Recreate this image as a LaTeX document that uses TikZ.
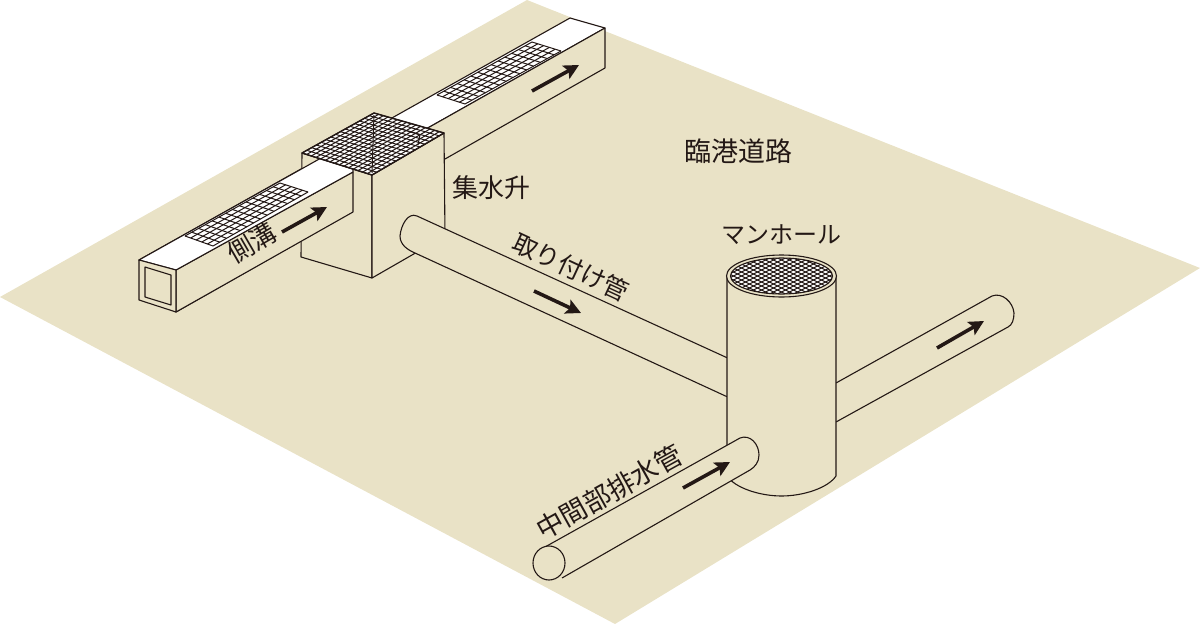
\documentclass[tikz,border=0pt]{standalone}
\usepackage{fontspec}
\setmainfont{Noto Sans CJK JP}
\usetikzlibrary{arrows.meta,calc}
\definecolor{ground}{HTML}{E9E2C6}
\definecolor{ink}{HTML}{231815}
\tikzset{
	outline/.style={draw=ink,line width=1.1pt,line join=round},
	face/.style={outline,fill=ground},
	cover/.style={outline,fill=white},
	bar/.style={draw=ink,line width=1pt},
	flow/.style={draw=ink,line width=3.6pt,-{Stealth[length=15pt,width=15pt,inset=3pt]}},
	label/.style={inner sep=0pt,text=ink,font=\fontsize{26}{26}\selectfont}
}
% corners a,b,c,d and number of cells along ab and bc
\newcommand{\grate}[6]{
	\fill[white] (#1) -- (#2) -- (#3) -- (#4) -- cycle;
	\foreach \t in {0,...,#5}
		\draw[bar] ($(#1)!{\t/#5}!(#2)$) -- ($(#4)!{\t/#5}!(#3)$);
	\foreach \t in {0,...,#6}
		\draw[bar] ($(#2)!{\t/#6}!(#3)$) -- ($(#1)!{\t/#6}!(#4)$);
}
\begin{document}
\begin{tikzpicture}[x=1pt,y=-1pt]
	\useasboundingbox (0,0) rectangle (1200,624);
	\fill[ground] (527,0) -- (1200,268) -- (615,624) -- (0,297) -- cycle;

	% channel behind the basin
	\draw[cover] (139,260) -- (570,18) -- (605,28) -- (176,270) -- cycle;
	\draw[face] (176,270) -- (605,28) -- (605,68) -- (176,312) -- cycle;
	\coordinate (fara) at (437,95);
	\coordinate (farb) at (465,104);
	\coordinate (farc) at (561,51);
	\coordinate (fard) at (532,42);
	\grate{fara}{farb}{farc}{fard}{5}{14}

	% basin
	\draw[face] (302,153) -- (372,175) -- (372,278) -- (301,257) -- cycle;
	\draw[face] (372,175) -- (444,133) -- (445,236) -- (372,278) -- cycle;

	% channel in front of the basin
	\draw[face] (176,270) -- (353,172) -- (353,212) -- (176,312) -- cycle;
	\draw[cover] (139,260) -- (176,270) -- (353,172) -- (353,169) -- (320,158.6) -- cycle;
	\draw[outline,fill=ground] (139,260) -- (176,270) -- (176,312) -- (139,300) -- cycle;
	\draw[outline] (145,267) -- (171,275) -- (171,305) -- (145,297) -- cycle;
	\coordinate (neara) at (185,236);
	\coordinate (nearb) at (213,246);
	\coordinate (nearc) at (308,192);
	\coordinate (neard) at (280,183);
	\grate{neara}{nearb}{nearc}{neard}{5}{14}

	% basin cover
	\coordinate (basa) at (302,153);
	\coordinate (basb) at (372,175);
	\coordinate (basc) at (444,133);
	\coordinate (basd) at (374,113);
	\grate{basa}{basb}{basc}{basd}{15}{15}
	\draw[outline,line width=1.4pt] (basa) -- (basb) -- (basc) -- (basd) -- cycle;
	\draw[draw=ink,line width=1pt] (374,115) -- (372,173);
	\draw[draw=ink,line width=1pt] (395,127) -- (420,135) -- (418,145);

	% pipes behind the manhole
	\draw[face] (417,216) -- (732,360) -- (732,399) -- (415,253)
		.. controls (408,250) and (400,245) .. (400,236)
		.. controls (401,225) and (408,212) .. (417,216);
	\draw[face] (836,383) -- (992,296)
		.. controls (1002,292) and (1013,302) .. (1014,313)
		.. controls (1014,320) and (1012,325) .. (1008,327) -- (836,422);

	% manhole
	\draw[face] (727,276) -- (727,476)
		.. controls (735,488) and (760,496) .. (781.5,496)
		.. controls (803,496) and (828,488) .. (836,476) -- (836,276);
	\draw[face] (781.5,276) ellipse [x radius=55pt,y radius=21pt];
	\begin{scope}
		\clip (781.5,276) ellipse [x radius=51pt,y radius=18pt];
		\fill[white] (725,250) rectangle (840,300);
		\foreach \k in {-12,...,12} {
			\draw[bar] (781.5+\k*8-40,256) -- (781.5+\k*8+40,296);
			\draw[bar] (781.5+\k*8+40,256) -- (781.5+\k*8-40,296);
		}
	\end{scope}
	\draw[outline] (781.5,276) ellipse [x radius=51pt,y radius=18pt];

	% pipe in front of the manhole
	\draw[face] (545,547) -- (740,438)
		.. controls (750,434) and (759,444) .. (759,455)
		.. controls (759,462) and (755,467) .. (750,470) -- (562,578);
	\draw[face] (549,563) ellipse [x radius=16pt,y radius=17pt];

	\foreach \xa/\ya/\xb/\yb in {282/232/327/207,532/91/579/65,534/291/581/313,937/348/984/321,683/488/730/462}
		\draw[flow] (\xa,\ya) -- (\xb,\yb);

	\node[label,rotate=30] (channel) at (252,243) {側溝};
	\node[label] (basin) at (491,188) {集水升};
	\node[label,font=\fontsize{27}{27}\selectfont] (road) at (738,151) {臨港道路};
	\node[label,font=\fontsize{24}{24}\selectfont] (manhole) at (781,235) {マンホール};
	\node[label,rotate=-25,font=\fontsize{25}{25}\selectfont] (inlet) at (571,267) {取り付け管};
	\node[label,rotate=29,font=\fontsize{27}{27}\selectfont] (drain) at (609,492) {中間部排水管};
\end{tikzpicture}
\end{document}
